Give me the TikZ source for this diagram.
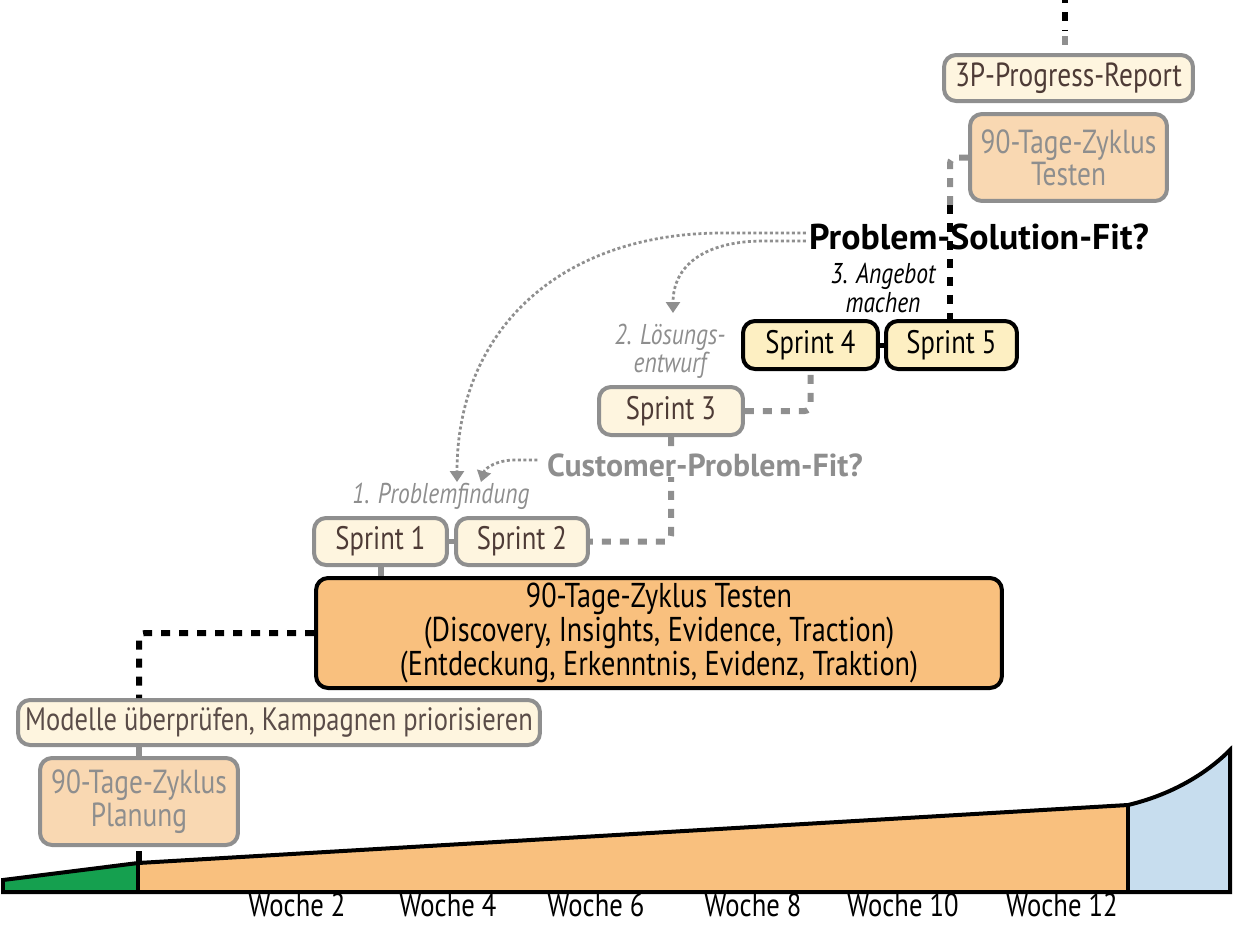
\documentclass[tikz,border=0pt]{standalone}
\usepackage{fontspec}
\setmainfont{PT Sans}[FakeStretch=0.82]
\newfontfamily\fitfont{PT Sans}
\usetikzlibrary{arrows.meta,calc}
\definecolor{cream}{HTML}{FEF5DF}
\definecolor{sprintfill}{HTML}{FDEFC2}
\definecolor{peach}{HTML}{F9D8B2}
\definecolor{orangefill}{HTML}{F9C07E}
\definecolor{greenfill}{HTML}{15A04F}
\definecolor{bluefill}{HTML}{C7DDEE}
\definecolor{gtext}{HTML}{8E8E8E}
\definecolor{gline}{HTML}{8F8F8F}
\definecolor{brown}{HTML}{4E3B36}
\newcommand\mainsz{\fontsize{19}{16.5}\selectfont}
\newcommand\sprintsz{\fontsize{18.5}{16.5}\selectfont}
\newcommand\itsz{\fontsize{16.3}{16}\selectfont\itshape}
\tikzset{
  box/.style={rounded corners=0.24cm, line width=0.08cm, inner sep=0pt, align=center, font=\mainsz},
  creambox/.style={box, fill=cream, draw=gline, text=brown},
  peachbox/.style={box, fill=peach, draw=gline, text=gtext},
  sprintbox/.style={box, fill=sprintfill, draw=black, text=black, font=\sprintsz},
  sprintbox2/.style={creambox, font=\sprintsz},
  bigbox/.style={box, fill=orangefill, draw=black, text=black},
  gdash/.style={draw=gline, line width=0.12cm, dash pattern=on 0.18cm off 0.18cm},
  bdash/.style={draw=black, line width=0.12cm, dash pattern=on 0.18cm off 0.18cm},
  dotline/.style={draw=gline, line width=0.055cm, dash pattern=on 0.06cm off 0.05cm},
  dotarr/.style={dotline, -{Triangle[width=0.28cm,length=0.22cm]}},
  lbl/.style={inner sep=0pt, align=center},
  tl/.style={draw=black, line width=0.08cm, line join=miter},
}
\begin{document}
\begin{tikzpicture}[x=0.02cm, y=-0.02cm]
\useasboundingbox (0,0) rectangle (1234,924);

% timeline
\fill[greenfill] (3,880) -- (138,863) -- (138,892) -- (3,892) -- cycle;
\fill[orangefill] (138,863) -- (1128,805) -- (1128,892) -- (138,892) -- cycle;
\fill[bluefill] (1128,805) .. controls (1170,795) and (1205,775) .. (1230,750) -- (1230,892) -- (1128,892) -- cycle;
\draw[tl] (3,892) -- (3,880) -- (138,863) -- (1128,805) .. controls (1170,795) and (1205,775) .. (1230,750) -- (1230,892) -- cycle;
\draw[tl] (138,863) -- (138,892);
\draw[tl] (1128,805) -- (1128,892);
\coordinate (tlstart) at (138,863);

\foreach \x/\t in {297/2,448/4,596/6,753/8,903/10,1062/12}
  \node[lbl, anchor=base, text depth=0pt, font=\fontsize{18.5}{18.5}\selectfont] (w\t) at (\x,916) {Woche \t};

% nodes
\node[creambox, minimum width=4.98cm, minimum height=0.92cm] (prog) at (1068.5,78) {3P-Progress-Report};
\node[peachbox, minimum width=3.94cm, minimum height=1.74cm] (testtop) at (1068.5,157.5) {90-Tage-Zyklus\\Testen};
\node[sprintbox, minimum width=2.70cm, minimum height=0.96cm] (s4) at (810.5,345) {Sprint 4};
\node[sprintbox, minimum width=2.62cm, minimum height=0.96cm] (s5) at (951.5,345) {Sprint 5};
\node[sprintbox2, minimum width=2.88cm, minimum height=0.96cm] (s3) at (671,411) {Sprint 3};
\node[sprintbox2, minimum width=2.66cm, minimum height=0.94cm] (s1) at (380.5,541.5) {Sprint 1};
\node[sprintbox2, minimum width=2.64cm, minimum height=0.94cm] (s2) at (522,541.5) {Sprint 2};
\node[bigbox, minimum width=13.72cm, minimum height=2.20cm, font=\fontsize{19.6}{17}\selectfont] (big) at (659,633)
  {90-Tage-Zyklus Testen\\(Discovery, Insights, Evidence, Traction)\\(Entdeckung, Erkenntnis, Evidenz, Traktion)};
\node[creambox, minimum width=10.44cm, minimum height=0.90cm, text=brown!75!gray, font=\fontsize{18.4}{16.5}\selectfont] (modelle) at (279,722.5) {Modelle überprüfen, Kampagnen priorisieren};
\node[peachbox, minimum width=3.96cm, minimum height=1.74cm] (plan) at (139,801.5) {90-Tage-Zyklus\\Planung};

% connectors
\coordinate (topend) at (1065,0);
\draw[bdash, dash phase=0.12cm] (topend) -- (1065,31);
\draw[gline, line width=0.12cm] (1065,36) -- (1065,45);
\coordinate (c1) at (950,205);
\draw[gdash, rounded corners=0.12cm] (testtop.west) -| (c1);
\draw[bdash] (c1) -- (c1 |- s5.north);
\draw[black, line width=0.1cm] (s4.east) -- (s5.west);
\draw[gdash, rounded corners=0.12cm] (s3.east) -| (s4.south);
\draw[gdash, rounded corners=0.12cm] (s3.south) |- (s2.east);
\draw[gline, line width=0.1cm] (s1.east) -- (s2.west);
\draw[gline, line width=0.12cm] (s1.south) -- (s1.south |- big.north);
\draw[bdash, rounded corners=0.12cm] (big.west) -| (plan.north |- modelle.north);
\draw[gline, line width=0.12cm] (plan.north |- modelle.south) -- (plan.north);
\draw[black, line width=0.12cm] (plan.south |- tlstart) -- ++(0,-12);

% labels
\node[lbl, font=\fitfont\fontsize{20.4}{20}\selectfont\bfseries, text=black] (psf) at (979,237) {Problem-Solution-Fit?};
\node[lbl, font=\fitfont\fontsize{18.1}{18}\selectfont\bfseries, text=gtext, fill=white, inner xsep=2pt] (cpf) at (705,465) {Customer-Problem-Fit?};
\node[lbl, font=\itsz, text=black] (angebot) at (883,288) {3. Angebot\\machen};
\node[lbl, font=\itsz, text=gtext] (loes) at (670,351) {2. Lösungs-\\entwurf};
\node[lbl, font=\itsz, text=gtext] (probl) at (441,496) {1. Problemfindung};

% dotted arrows
\coordinate (tipA) at (457,482);
\coordinate (tipB) at (673,313);
\coordinate (tipC) at (481,482);
\draw[dotarr] ($(psf.west)+(-3,-4)$) -- (720,233) .. controls (560,234) and (457,330) .. (tipA);
\draw[dotarr] ($(psf.west)+(-3,4)$) -- (760,241) .. controls (705,242) and (673,265) .. (tipB);
\draw[dotarr] ($(cpf.west)+(-6,-5)$) -- (515,460) .. controls (497,460) and (485,468) .. (tipC);
\end{tikzpicture}
\end{document}
